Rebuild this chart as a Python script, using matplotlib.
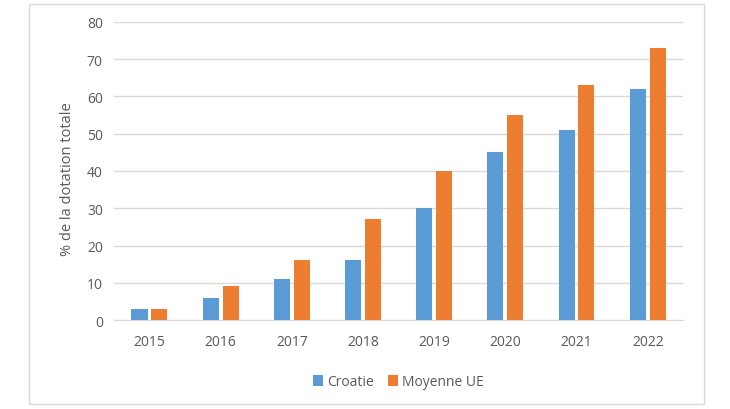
import matplotlib.pyplot as plt
import numpy as np
from matplotlib.patches import Rectangle

plt.rcParams['font.family'] = ['Open Sans', 'DejaVu Sans']

years = ['2015', '2016', '2017', '2018', '2019', '2020', '2021', '2022']
croatie = [3, 6, 11, 16, 30, 45, 51, 62]
moyenne_ue = [3, 9, 16, 27, 40, 55, 63, 73]

txt = '#595959'
fig = plt.figure(figsize=(7.3, 4.1), dpi=100)
fig.patches.append(Rectangle((0.040, 0.012), 0.925, 0.976, transform=fig.transFigure,
                             fill=False, edgecolor='#D9D9D9', linewidth=1))
ax = fig.add_axes([0.156, 0.217, 0.780, 0.727])

x = np.arange(len(years))
w = 0.225
ax.bar(x - 0.14, croatie, w, color='#5B9BD5', label='Croatie', zorder=3)
ax.bar(x + 0.14, moyenne_ue, w, color='#ED7D31', label='Moyenne UE', zorder=3)

ax.set_xlim(-0.5, len(years) - 0.5)
ax.set_ylim(0, 80)
ax.set_yticks(range(0, 81, 10))
ax.set_xticks(x)
ax.set_xticklabels(years)
ax.yaxis.grid(True, color='#D9D9D9', linewidth=1, zorder=0)
for s in ['top', 'right', 'left']:
    ax.spines[s].set_visible(False)
ax.spines['bottom'].set_color('#D9D9D9')
ax.tick_params(axis='both', length=0, colors=txt, labelsize=10)
ax.tick_params(axis='x', pad=10)
ax.tick_params(axis='y', pad=8)
ax.set_ylabel('% de la dotation totale', color=txt, fontsize=10.5, labelpad=8)
ax.yaxis.set_label_coords(-0.068, 0.475)

ax.legend(loc='upper center', bbox_to_anchor=(0.5, -0.14), ncol=2, frameon=False,
          fontsize=10, labelcolor=txt, handlelength=0.7, handleheight=0.9,
          handletextpad=0.3, columnspacing=1.0)

fig.savefig('out.png', dpi=100)
